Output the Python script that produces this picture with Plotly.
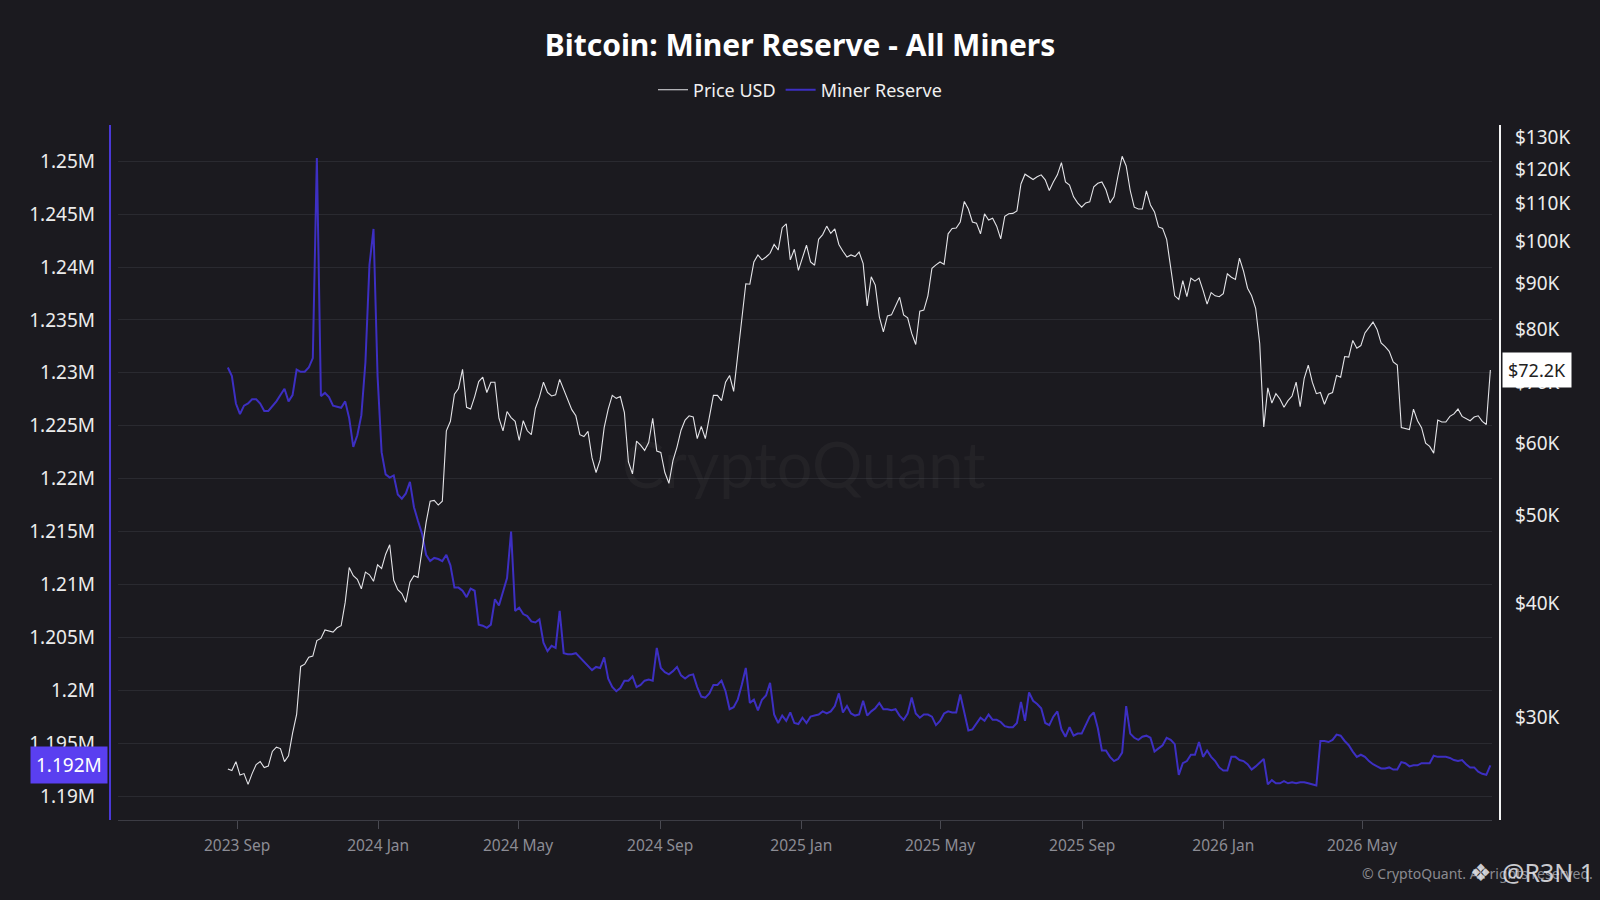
import numpy as np
import pandas as pd
import plotly.graph_objects as go

# ---------------- data ----------------
# half-weekly samples ending on the last day of the series
last_date = "2026-08-20"
step = "84h"

# Miner reserve, thousands of BTC
reserve_k = [
    1230.5, 1229.7, 1227.1, 1226.1, 1226.9, 1227.1, 1227.5, 1227.5, 1227.1, 1226.4,
    1226.4, 1226.8, 1227.3, 1227.9, 1228.5, 1227.3, 1227.9, 1230.3, 1230.1, 1230.1,
    1230.5, 1231.4, 1250.3, 1227.8, 1228.1, 1227.7, 1226.9, 1226.8, 1226.7, 1227.3,
    1225.7, 1223.0, 1224.1, 1226.0, 1231.0, 1240.2, 1243.6, 1229.7, 1222.5, 1220.4,
    1220.1, 1220.3, 1218.5, 1218.1, 1218.6, 1219.7, 1217.3, 1216.0, 1214.8, 1212.8,
    1212.2, 1212.5, 1212.4, 1212.2, 1212.8, 1211.8, 1209.7, 1209.7, 1209.4, 1208.8,
    1209.6, 1209.4, 1206.2, 1206.1, 1205.9, 1206.2, 1208.6, 1208.0, 1209.2, 1210.6,
    1215.0, 1207.5, 1207.8, 1207.2, 1207.0, 1206.5, 1206.4, 1206.7, 1204.5, 1203.7,
    1204.2, 1204.0, 1207.5, 1203.5, 1203.4, 1203.4, 1203.5, 1203.1, 1202.7, 1202.3,
    1201.9, 1202.2, 1202.1, 1203.1, 1201.1, 1200.3, 1199.9, 1200.2, 1200.9, 1200.9,
    1201.3, 1200.3, 1200.5, 1200.9, 1201.0, 1200.9, 1204.0, 1202.1, 1201.7, 1201.5,
    1201.8, 1202.2, 1201.4, 1201.1, 1201.4, 1201.5, 1200.3, 1199.4, 1199.3, 1199.7,
    1200.5, 1200.5, 1200.9, 1199.9, 1198.2, 1198.4, 1199.1, 1200.5, 1202.1, 1198.8,
    1199.1, 1198.1, 1199.1, 1199.5, 1200.7, 1197.7, 1196.9, 1197.6, 1197.1, 1197.9,
    1196.9, 1196.8, 1197.4, 1196.9, 1197.5, 1197.6, 1197.7, 1198.0, 1197.8, 1198.0,
    1198.5, 1199.7, 1197.9, 1198.5, 1197.8, 1197.6, 1197.7, 1199.0, 1197.6, 1198.0,
    1198.3, 1198.8, 1198.2, 1198.2, 1198.1, 1198.2, 1197.6, 1197.2, 1197.8, 1199.3,
    1197.8, 1197.4, 1197.7, 1197.7, 1197.5, 1196.7, 1197.1, 1197.8, 1198.0, 1197.9,
    1197.9, 1199.6, 1197.9, 1196.2, 1196.3, 1196.9, 1197.4, 1197.1, 1197.7, 1197.2,
    1197.2, 1197.0, 1196.6, 1196.5, 1196.5, 1196.9, 1198.9, 1197.1, 1199.8, 1199.0,
    1198.7, 1198.3, 1196.9, 1196.7, 1197.5, 1198.0, 1196.3, 1195.6, 1196.5, 1195.7,
    1195.9, 1195.9, 1196.7, 1197.5, 1197.9, 1196.4, 1194.3, 1194.3, 1193.7, 1193.3,
    1193.5, 1194.1, 1198.5, 1195.9, 1195.5, 1195.3, 1195.6, 1195.7, 1195.5, 1194.2,
    1194.5, 1194.8, 1195.5, 1195.3, 1194.9, 1192.0, 1193.1, 1193.3, 1193.9, 1193.9,
    1195.1, 1193.7, 1194.3, 1193.7, 1193.3, 1192.7, 1192.4, 1192.4, 1193.7, 1193.7,
    1193.4, 1193.3, 1193.0, 1192.5, 1192.8, 1193.2, 1193.5, 1191.1, 1191.5, 1191.2,
    1191.2, 1191.4, 1191.2, 1191.3, 1191.2, 1191.3, 1191.3, 1191.2, 1191.1, 1191.0,
    1195.2, 1195.2, 1195.1, 1195.3, 1195.8, 1195.7, 1195.2, 1194.8, 1194.2, 1193.7,
    1193.9, 1193.7, 1193.3, 1193.0, 1192.8, 1192.6, 1192.6, 1192.7, 1192.5, 1192.5,
    1193.2, 1193.1, 1192.8, 1192.9, 1192.9, 1193.1, 1193.1, 1193.1, 1193.8, 1193.7,
    1193.7, 1193.7, 1193.6, 1193.4, 1193.3, 1193.4, 1193.0, 1192.7, 1192.7, 1192.3,
    1192.1, 1192.0, 1192.9,
]

# Bitcoin price, thousands of USD
price_k = [
    26.3, 26.2, 26.8, 25.9, 26.0, 25.3, 26.0, 26.6, 26.8, 26.4,
    26.5, 27.5, 27.8, 27.7, 26.8, 27.2, 28.8, 30.2, 34.1, 34.3,
    34.9, 35.0, 36.4, 36.6, 37.4, 37.3, 37.2, 37.6, 37.8, 40.1,
    43.8, 42.9, 42.5, 41.5, 43.3, 43.0, 42.3, 44.1, 43.7, 45.3,
    46.4, 42.4, 41.4, 41.0, 40.1, 42.2, 42.9, 42.7, 45.9, 49.1,
    51.8, 51.9, 51.3, 51.8, 61.9, 63.4, 67.9, 68.9, 72.3, 65.7,
    65.4, 67.5, 70.1, 70.9, 68.2, 70.0, 70.0, 63.9, 61.9, 65.0,
    64.0, 63.4, 60.4, 63.5, 61.9, 61.3, 65.5, 67.4, 70.0, 68.2,
    67.6, 67.8, 70.5, 68.8, 67.1, 65.3, 64.3, 61.3, 61.0, 61.8,
    57.8, 55.7, 57.5, 62.4, 65.4, 67.7, 67.2, 67.5, 64.8, 57.2,
    55.5, 60.3, 59.7, 58.9, 60.1, 63.9, 58.8, 58.6, 55.7, 54.2,
    57.4, 59.4, 62.0, 63.6, 64.3, 64.1, 60.7, 62.6, 60.7, 64.2,
    67.7, 67.7, 66.8, 70.0, 71.2, 68.4, 75.3, 82.2, 89.8, 89.7,
    94.9, 96.6, 95.4, 96.1, 97.0, 99.2, 97.8, 103.5, 104.5, 95.4,
    98.0, 92.9, 96.2, 99.0, 94.9, 94.1, 100.5, 101.7, 103.9, 102.0,
    103.2, 99.2, 97.5, 96.1, 96.6, 96.2, 97.3, 94.5, 84.9, 91.4,
    89.5, 82.6, 79.5, 82.8, 83.0, 84.9, 86.8, 83.0, 82.4, 79.2,
    77.0, 83.8, 84.0, 87.1, 93.4, 94.2, 94.9, 94.3, 101.9, 103.3,
    103.4, 105.0, 110.6, 108.5, 105.0, 104.7, 101.9, 107.2, 105.5, 106.0,
    103.9, 100.6, 106.5, 107.2, 107.3, 108.0, 115.6, 118.5, 117.7, 116.9,
    117.7, 118.3, 116.8, 113.7, 116.2, 118.3, 122.0, 116.2, 115.3, 111.9,
    110.2, 109.0, 110.2, 110.5, 114.8, 115.8, 116.2, 113.9, 110.2, 111.9,
    118.1, 124.0, 121.0, 113.7, 109.0, 108.5, 108.5, 113.6, 109.6, 107.7,
    103.7, 103.3, 100.5, 93.2, 87.1, 86.3, 90.5, 86.9, 91.1, 90.4,
    91.1, 88.3, 85.3, 87.8, 87.1, 86.9, 87.6, 92.1, 91.3, 90.8,
    95.8, 92.7, 88.8, 87.1, 84.4, 77.2, 62.5, 69.0, 66.4, 68.0,
    67.1, 65.7, 66.8, 67.6, 70.0, 65.8, 70.7, 73.1, 70.0, 68.0,
    68.2, 66.2, 67.9, 68.2, 71.2, 70.9, 74.7, 74.6, 77.8, 76.3,
    76.8, 79.3, 80.3, 81.5, 80.0, 77.3, 76.6, 75.7, 73.7, 73.1,
    62.4, 62.3, 62.1, 65.4, 63.5, 62.4, 60.0, 59.5, 58.5, 63.6,
    63.3, 63.3, 64.2, 64.6, 65.4, 64.2, 63.9, 63.5, 64.1, 64.3,
    63.4, 62.9, 72.2,
]

reserve_dates = pd.date_range(end=last_date, periods=len(reserve_k), freq=step)
price_dates = pd.date_range(end=last_date, periods=len(price_k), freq=step)

x_tick_dates = ["2023-09-01", "2024-01-01", "2024-05-01", "2024-09-01", "2025-01-01",
                "2025-05-01", "2025-09-01", "2026-01-01", "2026-05-01"]
x_tick_text = ["2023 Sep", "2024 Jan", "2024 May", "2024 Sep", "2025 Jan",
               "2025 May", "2025 Sep", "2026 Jan", "2026 May"]

reserve_ticks_k = [1190, 1195, 1200, 1205, 1210, 1215, 1220, 1225, 1230, 1235, 1240, 1245, 1250]
reserve_tick_text = ["1.19M", "1.195M", "1.2M", "1.205M", "1.21M", "1.215M", "1.22M",
                     "1.225M", "1.23M", "1.235M", "1.24M", "1.245M", "1.25M"]
price_ticks_k = [30, 40, 50, 60, 70, 80, 90, 100, 110, 120, 130]
price_tick_text = ["$30K", "$40K", "$50K", "$60K", "$70K", "$80K", "$90K",
                   "$100K", "$110K", "$120K", "$130K"]

last_reserve_label = "1.192M"
last_price_label = "$72.2K"

# ---------------- styling / layout (pixels of a 1600x900 page) ----------------
BG = "#1b1a1f"
GRID = "#2a2a30"
PURPLE = "#3d2fc2"
PURPLE_BOX = "#5a3ff0"
PRICE_COL = "#e4e4e8"
FONT = "Noto Sans"

W, H = 1600, 900
PL, PR, PT, PB = 118, 1492, 125, 820     # plot area edges
PW, PH = PR - PL, PB - PT


def px_x(x):
    return (x - PL) / PW


def px_y(y):
    return (PB - y) / PH


reserve = np.array(reserve_k) * 1000
price = np.array(price_k) * 1000

fig = go.Figure()
fig.add_trace(go.Scatter(
    x=price_dates, y=price, name="Price USD", mode="lines",
    line=dict(color=PRICE_COL, width=1.1), yaxis="y2",
))
fig.add_trace(go.Scatter(
    x=reserve_dates, y=reserve, name="Miner Reserve", mode="lines",
    line=dict(color=PURPLE, width=2), yaxis="y",
))

fig.update_layout(
    width=W, height=H,
    paper_bgcolor=BG, plot_bgcolor=BG,
    margin=dict(l=PL, r=W - PR, t=PT, b=H - PB, autoexpand=False),
    font=dict(family=FONT, color="#e8e8e8"),
    title=dict(
        text="<b>Bitcoin: Miner Reserve - All Miners</b>",
        x=0.5, xref="container", xanchor="center",
        y=1 - 45 / H, yref="container", yanchor="middle",
        font=dict(family=FONT, size=30, color="#ffffff"),
    ),
    legend=dict(
        orientation="h", x=0.5, xref="container", xanchor="center",
        y=1 - 90 / H, yref="container", yanchor="middle",
        font=dict(family=FONT, size=18, color="#f0f0f0"),
        bgcolor="rgba(0,0,0,0)", itemwidth=30,
        traceorder="normal",
    ),
    xaxis=dict(
        type="date",
        range=["2023-05-21", "2026-08-21 10:00"],
        tickvals=x_tick_dates, ticktext=x_tick_text,
        showgrid=False, zeroline=False,
        showline=True, linecolor="#3c3c44", linewidth=1,
        ticks="outside", ticklen=8, tickcolor="#4a4a52", tickwidth=1,
        ticklabelstandoff=3,
        tickfont=dict(family=FONT, size=15.5, color="#8c8c94"),
    ),
    yaxis=dict(
        range=[1187731, 1253426],
        tickvals=[v * 1000 for v in reserve_ticks_k], ticktext=reserve_tick_text,
        showgrid=True, gridcolor=GRID, gridwidth=1, zeroline=False,
        showline=False, ticks="",
        ticklabelstandoff=22,
        tickfont=dict(family=FONT, size=19, color="#ececec"),
    ),
    yaxis2=dict(
        type="log", overlaying="y", side="right",
        range=[np.log10(23120), np.log10(134200)],
        tickvals=[v * 1000 for v in price_ticks_k], ticktext=price_tick_text,
        showgrid=False, zeroline=False, showline=False, ticks="",
        ticklabelstandoff=22,
        tickfont=dict(family=FONT, size=19, color="#ececec"),
    ),
    hovermode=False,
)

# axis lines drawn slightly outside the plotting area, as in the reference
fig.add_shape(type="line", xref="paper", yref="paper", x0=px_x(110), x1=px_x(110),
              y0=0, y1=1, line=dict(color="#4a38d6", width=2))
fig.add_shape(type="line", xref="paper", yref="paper", x0=px_x(1500), x1=px_x(1500),
              y0=0, y1=1, line=dict(color="#f4f4f4", width=2))

# centre watermark
fig.add_annotation(text="CryptoQuant", xref="paper", yref="paper",
                   x=px_x(804), y=px_y(463), showarrow=False,
                   font=dict(family="Lato", size=63, color="rgba(255,255,255,0.035)"),
                   xanchor="center", yanchor="middle")

# last-value labels
fig.add_annotation(text=last_reserve_label, xref="paper", yref="y",
                   x=px_x(107.5), y=reserve[-1], xanchor="right", yanchor="middle",
                   showarrow=False, bgcolor=PURPLE_BOX, borderpad=5,
                   font=dict(family=FONT, size=19, color="#ffffff"))
fig.add_annotation(text=last_price_label, xref="paper", yref="y2",
                   x=px_x(1502), y=np.log10(price[-1]), xanchor="left", yanchor="middle",
                   showarrow=False, bgcolor="#ffffff", borderpad=5,
                   font=dict(family=FONT, size=18, color="#222222"))

# footer
fig.add_annotation(text="© CryptoQuant. All rights reserved.", xref="paper", yref="paper",
                   x=px_x(1360), y=px_y(873), xanchor="left",
                   yanchor="middle", showarrow=False,
                   font=dict(family=FONT, size=14, color="#8a8a90"))
fig.add_annotation(text="❖", xref="paper", yref="paper",
                   x=px_x(1481), y=px_y(873), xanchor="center",
                   yanchor="middle", showarrow=False,
                   font=dict(family="DejaVu Sans", size=24, color="rgba(235,235,240,0.85)"))
fig.add_annotation(text="@R3N 1", xref="paper", yref="paper",
                   x=px_x(1500), y=px_y(872), xanchor="left",
                   yanchor="middle", showarrow=False,
                   font=dict(family=FONT, size=25, color="rgba(235,235,240,0.85)"))

fig.write_html("out.html", config={"displayModeBar": False},
               post_script="document.body.style.margin='0';")
